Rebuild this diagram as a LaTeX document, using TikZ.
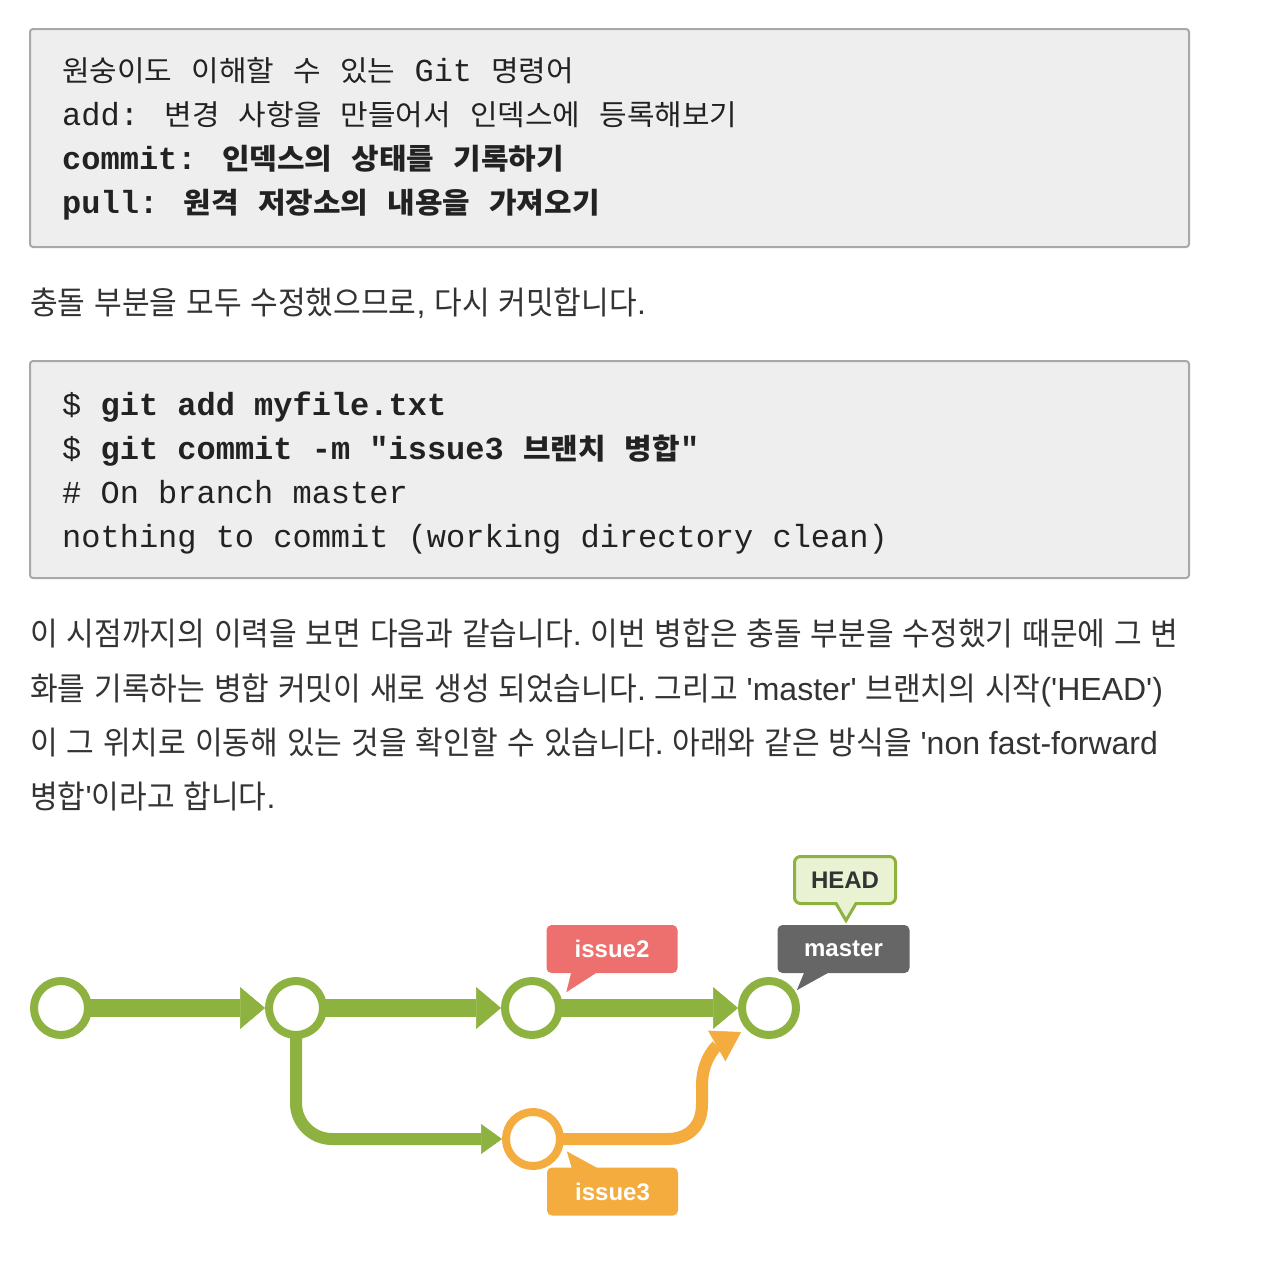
\documentclass[tikz,border=0pt]{standalone}
\usepackage{fontspec}
\usetikzlibrary{arrows.meta,backgrounds}
\setmainfont{Liberation Sans}
\newfontfamily\parafont{Liberation Sans}
\newfontfamily\codefont{Liberation Mono}
\newfontfamily\kotext[FakeStretch=0.94]{Noto Sans CJK KR}
\newfontfamily\kocode[Scale=0.9,FakeStretch=1.04]{Noto Sans CJK KR}
\newif\ifincode
\newcommand\kofont{\ifincode\kocode\else\kotext\fi}
% hangul syllables switch to the korean font by themselves
\XeTeXinterchartokenstate=1
\chardef\hangulclass=7
\newcount\hcount
\hcount="AC00
\loop
  \XeTeXcharclass\hcount=\hangulclass
\ifnum\hcount<"D7A3
  \advance\hcount by 1
\repeat
\XeTeXinterchartoks 0 \hangulclass = {\begingroup\kofont}
\XeTeXinterchartoks 4095 \hangulclass = {\begingroup\kofont}
\XeTeXinterchartoks \hangulclass 0 = {\endgroup}
\XeTeXinterchartoks \hangulclass 4095 = {\endgroup}

\definecolor{gitgreen}{HTML}{8DB23F}
\definecolor{gitorange}{HTML}{F3AC3D}
\definecolor{issuered}{HTML}{EE706E}
\definecolor{mastergray}{HTML}{666666}
\definecolor{headfill}{HTML}{EAF2D4}
\definecolor{headtext}{HTML}{333333}
\definecolor{codebg}{HTML}{EEEEEE}
\definecolor{codeline}{HTML}{A8A8A8}
\definecolor{codetext}{HTML}{222222}
\definecolor{paratext}{HTML}{333333}

\begin{document}
\begin{tikzpicture}[x=1pt,y=-1pt]
	\tikzstyle{codebox}=[fill=codebg,draw=codeline,line width=2pt,rounded corners=3pt]
	\tikzstyle{code}=[anchor=base west,inner sep=0pt,text=codetext,font=\incodetrue\codefont\fontsize{32}{32}\selectfont]
	\tikzstyle{codebold}=[code,font=\incodetrue\codefont\bfseries\fontsize{32}{32}\selectfont]
	\tikzstyle{para}=[anchor=base west,inner sep=0pt,text=paratext,font=\parafont\frenchspacing\fontsize{32}{32}\selectfont]
	\tikzstyle{commit}=[circle,line width=8pt,draw=gitgreen,fill=white,minimum size=54pt,inner sep=0pt]
	\tikzstyle{mainline}=[draw=gitgreen,line width=18pt,-{Triangle[length=25pt,width=42pt,line width=0.5pt]}]
	\tikzstyle{branchline}=[draw=gitgreen,line width=12pt,rounded corners=36pt,-{Triangle[length=21pt,width=30pt,line width=0.5pt]}]
	\tikzstyle{mergeline}=[draw=gitorange,line width=12pt,shorten >=6pt,-{Triangle[length=28pt,width=35pt,line width=0.5pt]}]
	\tikzstyle{tag}=[rounded corners=5pt,minimum width=131pt,minimum height=48pt,inner sep=0pt,text=white,font=\bfseries\fontsize{24}{24}\selectfont]

	\useasboundingbox (0,0) rectangle (1280,1262);

	% first code block
	\draw[codebox] (30,29) rectangle (1189,247);
	\node[code] (cmd1) at (62,81) {원숭이도 이해할 수 있는 Git 명령어};
	\node[code] (cmd2) at (62,125) {add: 변경 사항을 만들어서 인덱스에 등록해보기};
	\node[codebold] (cmd3) at (62,169) {commit: 인덱스의 상태를 기록하기};
	\node[codebold] (cmd4) at (62,213) {pull: 원격 저장소의 내용을 가져오기};

	\node[para] (p1) at (30,314) {충돌 부분을 모두 수정했으므로, 다시 커밋합니다.};

	% second code block
	\draw[codebox] (30,361) rectangle (1189,578);
	\node[code] (sh1) at (62,415) {\$ {\bfseries git add myfile.txt}};
	\node[code] (sh2) at (62,459) {\$ {\bfseries git commit -m "issue3 브랜치 병합"}};
	\node[code] (sh3) at (62,503) {\# On branch master};
	\node[code] (sh4) at (62,547) {nothing to commit (working directory clean)};

	\node[para] (q1) at (30,645) {이 시점까지의 이력을 보면 다음과 같습니다. 이번 병합은 충돌 부분을 수정했기 때문에 그 변};
	\node[para] (q2) at (30,700) {화를 기록하는 병합 커밋이 새로 생성 되었습니다. 그리고 'master' 브랜치의 시작('HEAD')};
	\node[para] (q3) at (30,754) {이 그 위치로 이동해 있는 것을 확인할 수 있습니다. 아래와 같은 방식을 'non fast-forward};
	\node[para] (q4) at (30,808) {병합'이라고 합니다.};

	% history
	\node[commit] (c1) at (61,1008) {};
	\node[commit] (c2) at (296,1008) {};
	\node[commit] (c3) at (532,1008) {};
	\node[commit] (c4) at (769,1008) {};
	\node[commit,draw=gitorange] (o1) at (533,1139) {};
	\coordinate (rise) at (702,1085);

	\begin{scope}[on background layer]
		\fill[white] (0,0) rectangle (1280,1262);
		\path[mainline] (c1.center) -- (c2);
		\path[mainline] (c2.center) -- (c3);
		\path[mainline] (c3.center) -- (c4);
		\path[branchline] (c2.center) |- (o1);
		\path[mergeline] (o1.center) -- (667,1139) .. controls (689,1139) and (702,1126) .. (702,1104) -- (rise) .. controls +(0,-25) and +(-30,17) .. (c4.223);
	\end{scope}

	% branch tags
	\node[tag,fill=issuered] (issue2) at (612,949) {issue2};
	\fill[issuered] ([xshift=25pt,yshift=1pt]issue2.south west) -- ([xshift=51pt,yshift=1pt]issue2.south west) -- ([xshift=20pt,yshift=-19pt]issue2.south west) -- cycle;

	\node[tag,fill=mastergray,minimum width=132pt] (master) at (843.5,949) {master};
	\fill[mastergray] ([xshift=27pt,yshift=1pt]master.south west) -- ([xshift=52pt,yshift=1pt]master.south west) -- ([xshift=19.5pt,yshift=-17pt]master.south west) -- cycle;

	\node[tag,fill=headfill,draw=gitgreen,line width=3pt,text=headtext,minimum width=101pt,minimum height=47pt,rounded corners=6pt] (head) at (845,880) {HEAD};
	\fill[headfill] ([xshift=-8pt,yshift=3pt]head.south) -- ([xshift=10pt,yshift=3pt]head.south) -- ([xshift=1pt,yshift=-14pt]head.south) -- cycle;
	\draw[gitgreen,line width=3pt] ([xshift=-9pt,yshift=1.5pt]head.south) -- ([xshift=1pt,yshift=-15.5pt]head.south) -- ([xshift=11pt,yshift=1.5pt]head.south);

	\node[tag,fill=gitorange] (issue3) at (612.5,1191.5) {issue3};
	\fill[gitorange] ([xshift=25pt,yshift=-1pt]issue3.north west) -- ([xshift=51pt,yshift=-1pt]issue3.north west) -- ([xshift=20pt,yshift=16pt]issue3.north west) -- cycle;
\end{tikzpicture}
\end{document}
